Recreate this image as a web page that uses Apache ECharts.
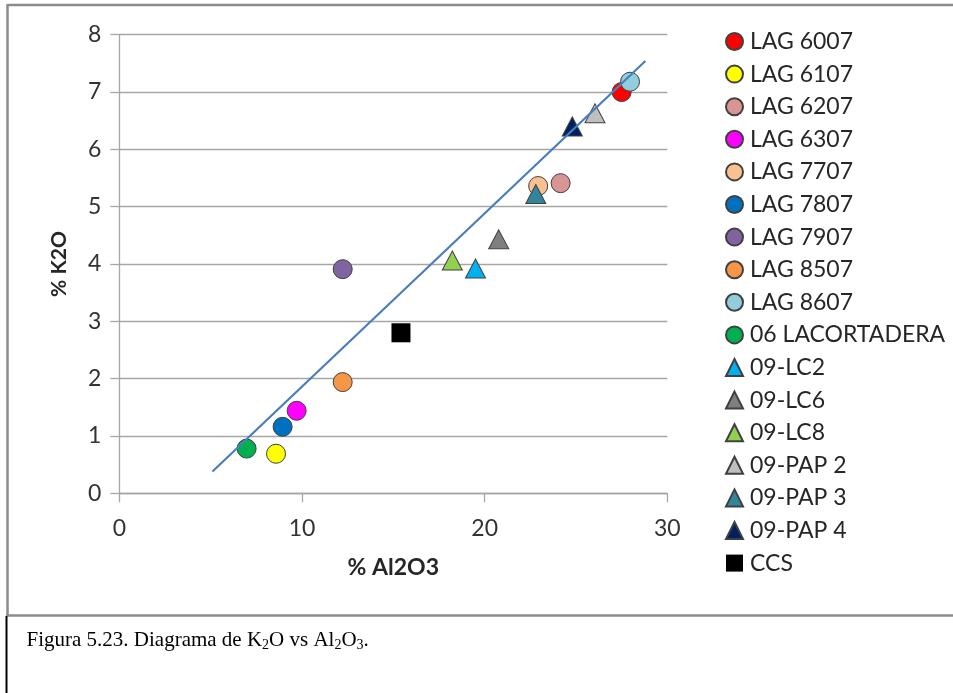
<!DOCTYPE html>
<html>
<head>
<meta charset="utf-8">
<script src="https://cdn.jsdelivr.net/npm/echarts@6/dist/echarts.min.js"></script>
<style>
  html, body { margin: 0; padding: 0; background: #ffffff; }
  #chart { width: 953px; height: 693px; }
</style>
</head>
<body>
<div id="chart"></div>
<script>
// Sample names and oxide contents (wt %)
const sampleNames = [
  'LAG 6007', 'LAG 6107', 'LAG 6207', 'LAG 6307', 'LAG 7707', 'LAG 7807',
  'LAG 7907', 'LAG 8507', 'LAG 8607', '06 LACORTADERA', '09-LC2', '09-LC6',
  '09-LC8', '09-PAP 2', '09-PAP 3', '09-PAP 4', 'CCS'
];
const al2o3 = [27.5, 8.58, 24.16, 9.71, 22.93, 8.94, 12.23, 12.23, 27.96, 6.97, 19.5, 20.77, 18.23, 26.04, 22.8, 24.8, 15.42];
const k2o   = [7.00, 0.69, 5.41, 1.44, 5.36, 1.16, 3.91, 1.94, 7.18, 0.78, 3.92, 4.43, 4.06, 6.63, 5.22, 6.40, 2.80];

// Linear trend line end points
const trendX = [5.1, 28.8];
const trendY = [0.38, 7.54];

// Axis tick values
const xTicks = [0, 10, 20, 30];
const yTicks = [0, 1, 2, 3, 4, 5, 6, 7, 8];

// Marker appearance for each sample
const markerColors = [
  '#ff0000', '#ffff00', '#d99594', '#ff00ff', '#fac090', '#0070c0',
  '#8064a2', '#f79646', '#92cddc', '#00b050', '#00b0f0', '#7f7f7f',
  '#92d050', '#bfbfbf', '#31859c', '#002060', '#000000'
];
const markerShapes = [
  'circle', 'circle', 'circle', 'circle', 'circle', 'circle', 'circle', 'circle', 'circle', 'circle',
  'triangle', 'triangle', 'triangle', 'triangle', 'triangle', 'triangle', 'rect'
];

const uiFont = 'Lato, "Open Sans", sans-serif';
const gridColor = '#a6a6a6';

const chart = echarts.init(document.getElementById('chart'), null, { renderer: 'canvas' });

const scatterSeries = sampleNames.map(function (name, i) {
  const shape = markerShapes[i];
  let size = 19;
  if (shape === 'triangle') size = [20, 19];
  return {
    name: name,
    type: 'scatter',
    symbol: shape,
    symbolSize: size,
    z: 2,
    itemStyle: {
      color: markerColors[i],
      borderColor: shape === 'rect' ? markerColors[i] : '#404040',
      borderWidth: shape === 'rect' ? 0 : 1,
      opacity: 1
    },
    emphasis: { disabled: true },
    data: [[al2o3[i], k2o[i]]]
  };
});

const trendSeries = {
  name: 'tendencia',
  type: 'line',
  symbol: 'none',
  z: 5,
  silent: true,
  lineStyle: { color: '#4a7ebb', width: 2.2 },
  data: trendX.map(function (x, i) { return [x, trendY[i]]; })
};

chart.setOption({
  animation: false,
  backgroundColor: '#ffffff',
  grid: { left: 119.3, right: 285.7, top: 34.7, bottom: 199.7, containLabel: false },
  xAxis: {
    type: 'value',
    min: xTicks[0],
    max: xTicks[xTicks.length - 1],
    interval: 10,
    name: '% Al2O3',
    nameLocation: 'middle',
    nameGap: 63,
    nameTextStyle: { fontFamily: uiFont, fontSize: 23, fontWeight: 'bold', color: '#262626' },
    axisLine: { show: true, lineStyle: { color: gridColor, width: 1.3 } },
    axisTick: { show: true, length: 9, lineStyle: { color: gridColor, width: 1.3 } },
    axisLabel: { fontFamily: uiFont, fontSize: 23, color: '#333333', margin: 24 },
    splitLine: { show: false }
  },
  yAxis: {
    type: 'value',
    min: yTicks[0],
    max: yTicks[yTicks.length - 1],
    interval: 1,
    name: '% K2O',
    nameLocation: 'middle',
    nameGap: 50,
    nameTextStyle: { fontFamily: uiFont, fontSize: 21, fontWeight: 'bold', color: '#262626' },
    axisLine: { show: true, lineStyle: { color: gridColor, width: 1.3 } },
    axisTick: { show: true, length: 9, lineStyle: { color: gridColor, width: 1.3 } },
    axisLabel: { fontFamily: uiFont, fontSize: 23, color: '#333333', margin: 18 },
    splitLine: { show: true, lineStyle: { color: gridColor, width: 1.3 } }
  },
  legend: {
    orient: 'vertical',
    left: 725,
    top: 30,
    padding: 0,
    itemWidth: 17,
    itemHeight: 17,
    itemGap: 9.6,
    selectedMode: false,
    data: sampleNames,
    textStyle: { fontFamily: uiFont, fontSize: 23, lineHeight: 22, color: '#262626', padding: [0, 0, 0, 2] }
  },
  graphic: [
    // outer frame of the figure
    { type: 'line', shape: { x1: 7.5, y1: 5, x2: 960, y2: 5 }, style: { stroke: '#8c8c8c', lineWidth: 2.5 }, z: 0 },
    { type: 'line', shape: { x1: 7.5, y1: 4, x2: 7.5, y2: 616 }, style: { stroke: '#8c8c8c', lineWidth: 2.5 }, z: 0 },
    { type: 'line', shape: { x1: 6, y1: 615.5, x2: 960, y2: 615.5 }, style: { stroke: '#8c8c8c', lineWidth: 2.5 }, z: 0 },
    { type: 'line', shape: { x1: 6.5, y1: 616, x2: 6.5, y2: 700 }, style: { stroke: '#000000', lineWidth: 2 }, z: 0 },
    // caption
    {
      type: 'text',
      left: 26.5,
      top: 630,
      style: {
        text: '{n|Figura 5.23. Diagrama de K}{s|2}{n|O vs Al}{s|2}{n|O}{s|3}{n|.}',
        rich: {
          n: { fontFamily: '"Liberation Serif", "Times New Roman", serif', fontSize: 21, lineHeight: 24, verticalAlign: 'middle', fill: '#000000' },
          s: { fontFamily: '"Liberation Serif", "Times New Roman", serif', fontSize: 14, lineHeight: 14, verticalAlign: 'bottom', fill: '#000000' }
        }
      }
    }
  ],
  series: scatterSeries.concat([trendSeries])
});
</script>
</body>
</html>
